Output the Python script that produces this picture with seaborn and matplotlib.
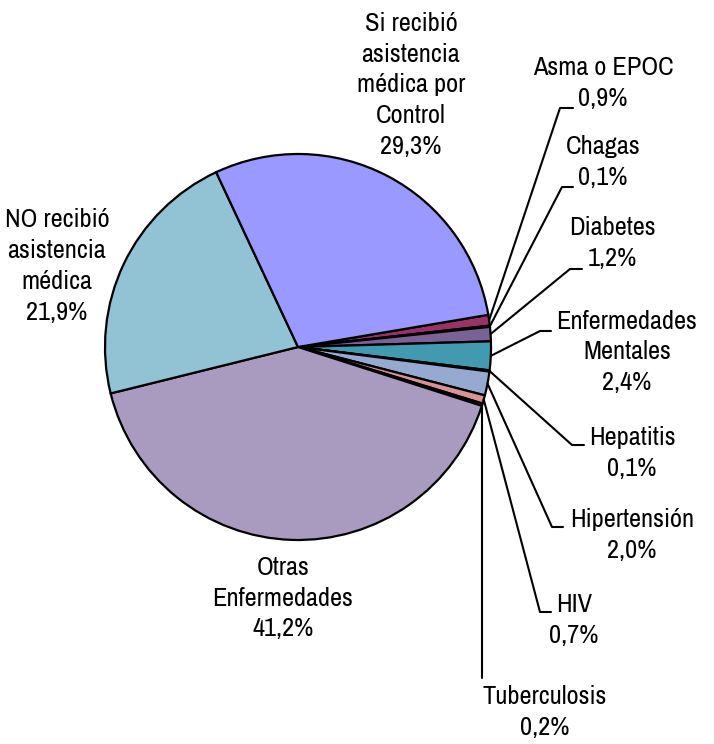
import numpy as np
import seaborn as sns
import matplotlib.pyplot as plt

categorias = ['Asma o EPOC', 'Chagas', 'Diabetes', 'Enfermedades\nMentales', 'Hepatitis',
              'Hipertensión', 'HIV', 'Tuberculosis', 'Otras\nEnfermedades',
              'NO recibió\nasistencia\nmédica', 'Si recibió\nasistencia\nmédica por\nControl']
porcentajes = [0.9, 0.1, 1.2, 2.4, 0.1, 2.0, 0.7, 0.2, 41.2, 21.9, 29.3]
colores = ['#993366', '#3a2a55', '#7a6196', '#429ab0', '#24365a', '#95a9d1',
           '#d89494', '#c8e6a8', '#a99bbf', '#92c3d4', '#9999ff']

sns.set_theme(style='white')
plt.rcParams['font.family'] = ['Archivo Narrow', 'Liberation Sans', 'DejaVu Sans']

W, H = 714, 744
CX, CY, R = 298, 347, 193

def px(x, y):
    # pixel (from top-left) -> data units
    return (x - CX) / R, (CY - y) / R

fig = plt.figure(figsize=(W / 100, H / 100), dpi=100)
ax = fig.add_axes([0, 0, 1, 1])

wedges, _ = ax.pie(porcentajes, colors=colores, startangle=9.6, counterclock=False,
                   radius=1, wedgeprops=dict(edgecolor='black', linewidth=1.6))

# label placement (text center) and leader elbow, in pixels
centros = [(603, 83), (603, 162), (612, 243), (627, 352), (632, 453),
           (632, 535), (574, 620), (545, 712), (283, 598), (57, 266), (411, 85)]
codos = [(560, 108, 573), (562, 187, 573), (570, 269, 582), (540, 331, 551),
         (572, 445, 584), (552, 527, 563), (540, 612, 551), None, None, None, None]

for i, w in enumerate(wedges):
    txt = categorias[i] + '\n' + f'{porcentajes[i]:.1f}'.replace('.', ',') + '%'
    x, y = px(*centros[i])
    ax.text(x, y, txt, ha='center', va='center', multialignment='center',
            fontsize=19, linespacing=1.42, color='black')
    ang = np.deg2rad((w.theta1 + w.theta2) / 2)
    x0, y0 = np.cos(ang), np.sin(ang)
    if codos[i] is not None:
        ex, ey, hx = codos[i]
        x1, y1 = px(ex, ey)
        x2, _ = px(hx, ey)
        ax.plot([x0, x1, x2], [y0, y1, y1], color='black', lw=1.5)
    elif categorias[i] == 'Tuberculosis':
        _, y1 = px(0, 678)
        ax.plot([x0, x0], [y0, y1], color='black', lw=1.5)

ax.set_xlim(-CX / R, (W - CX) / R)
ax.set_ylim(-(H - CY) / R, CY / R)
ax.set_aspect('auto')
ax.axis('off')

plt.savefig('out.png', dpi=100)
